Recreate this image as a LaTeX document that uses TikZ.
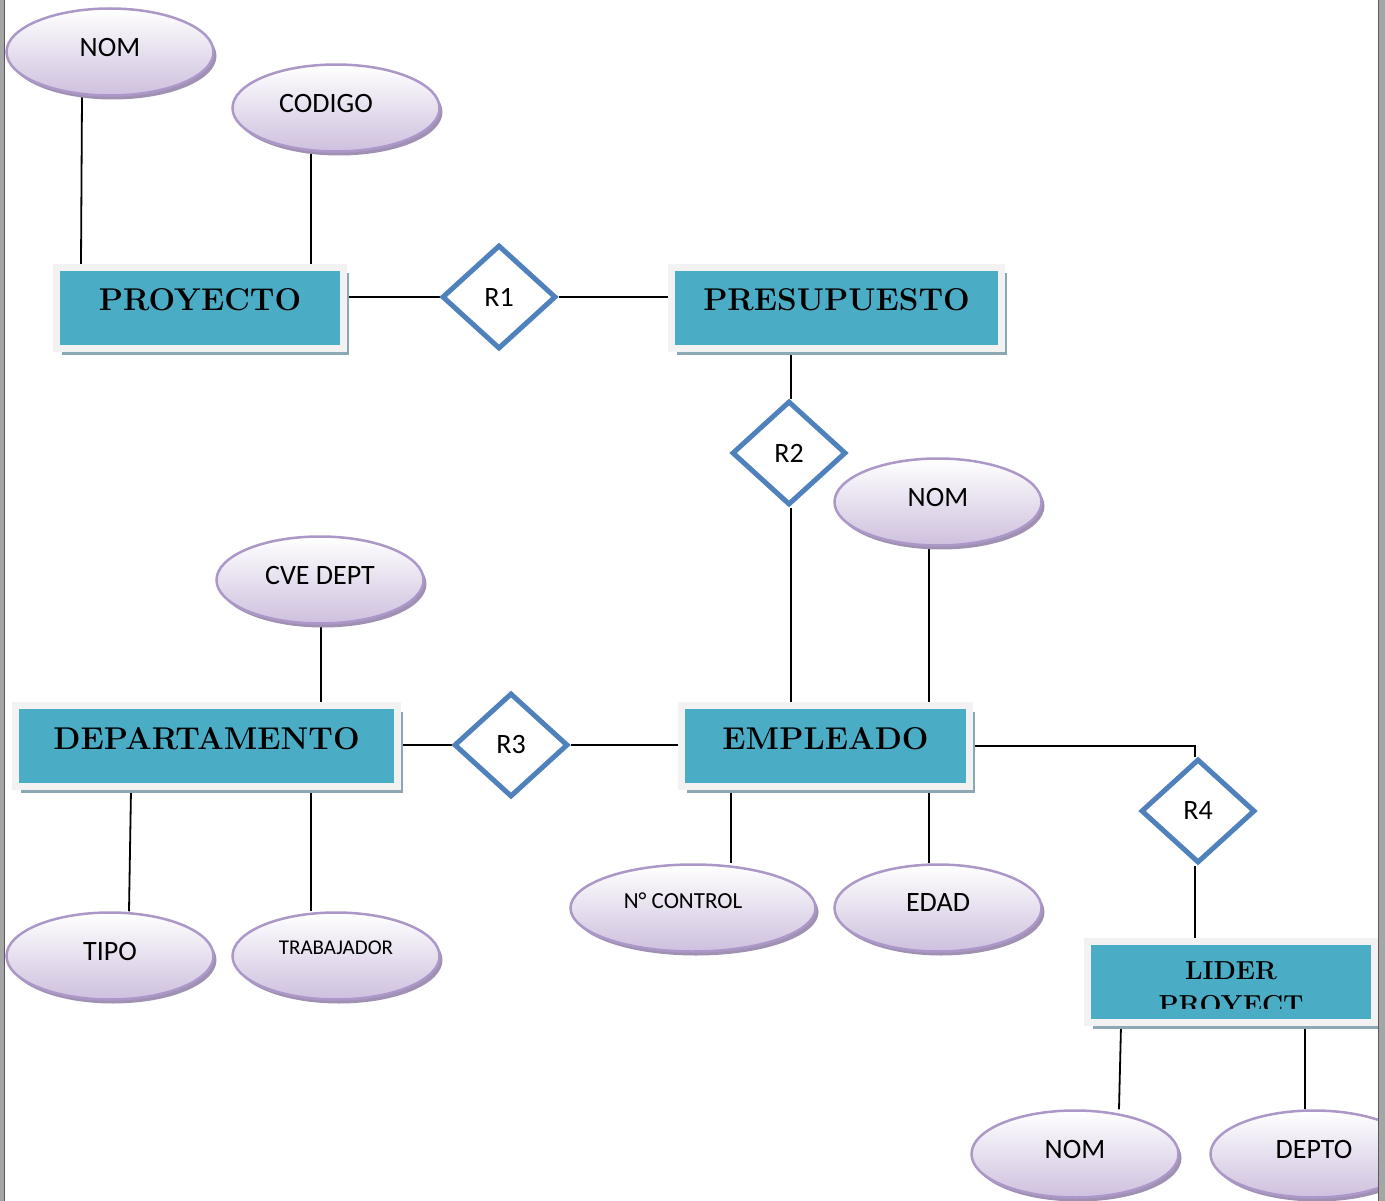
\documentclass[tikz,border=0pt]{standalone}
\usepackage{fontspec}
\setsansfont{Carlito}
\usetikzlibrary{shapes.geometric,shadows,backgrounds}

\definecolor{attrline}{RGB}{172,152,200}
\definecolor{attrbottom}{RGB}{206,192,222}
\definecolor{attrshadow}{RGB}{160,145,178}
\definecolor{entfill}{RGB}{75,172,198}
\definecolor{entframe}{RGB}{242,242,242}
\definecolor{entshadow}{RGB}{140,168,180}
\definecolor{relline}{RGB}{79,129,189}
\definecolor{pageedge}{RGB}{165,165,165}

\tikzset{
    attr/.style={ellipse, draw=attrline, line width=2.5pt, top color=white, bottom color=attrbottom,
        minimum width=207pt, minimum height=87pt, inner sep=0pt, text depth=10pt,
        font=\sffamily\fontsize{28}{34}\selectfont,
        drop shadow={shadow xshift=3pt, shadow yshift=-4pt, fill=attrshadow, opacity=1}},
    entity/.style={rectangle, fill=entfill, draw=entframe, line width=7pt,
        minimum width=287pt, minimum height=81pt, inner sep=0pt, text depth=16pt,
        font=\bfseries\fontsize{31.5}{37}\selectfont,
        drop shadow={shadow xshift=5pt, shadow yshift=-6pt, fill=entshadow, opacity=1}},
    relation/.style={diamond, draw=relline, line width=5pt, fill=white,
        minimum width=114pt, minimum height=104pt, inner sep=0pt,
        font=\sffamily\fontsize{28}{33}\selectfont},
    link/.style={line width=1.8pt}
}

\begin{document}
\begin{tikzpicture}[x=1pt,y=-1pt]
    \useasboundingbox (0,0) rectangle (1385,1201);

    \node[entity] (proyecto) at (200,308) {PROYECTO};
    \node[entity, minimum width=330pt] (presupuesto) at (836.5,308) {PRESUPUESTO};
    \node[entity, minimum width=382pt] (departamento) at (206.5,746) {DEPARTAMENTO};
    \node[entity, minimum width=288pt] (empleado) at (825.5,746) {EMPLEADO};
    \node[entity] (lider) at (1231,982) {};
    \begin{scope}
        \clip (1087,945) rectangle (1375,1008);
        \node[inner sep=0pt, align=center, font=\bfseries\fontsize{26}{34}\selectfont] (liderTxt)
            at ([yshift=-6pt]lider.center) {LIDER\\PROYECT};
    \end{scope}

    \node[relation] (r1) at (499,297) {R1};
    \node[relation] (r2) at (789,453) {R2};
    \node[relation] (r3) at (511,745) {R3};
    \node[relation] (r4) at (1198,811) {R4};

    \node[attr] (nomProy) at (110,52) {NOM};
    \node[attr] (codigo) at (336,108) {CODIGO\hspace*{20pt}};
    \node[attr] (nomEmp) at (938,502) {NOM};
    \node[attr] (cveDept) at (320,580) {CVE DEPT};
    \node[attr] (tipo) at (110,956) {TIPO};
    \node[attr, font=\sffamily\fontsize{21}{25}\selectfont, text depth=16pt] (trabajador) at (336,956) {TRABAJADOR};
    \node[attr, minimum width=245pt, font=\sffamily\fontsize{23}{28}\selectfont, text depth=14pt] (nControl) at (693,908) {N° CONTROL\hspace*{20pt}};
    \node[attr] (edad) at (938,908) {EDAD};
    \node[attr] (nomLider) at (1075,1154) {NOM};
    \node[attr] (depto) at (1314,1154) {DEPTO};

    \begin{scope}[on background layer]
        \draw[link] ([xshift=-28pt]nomProy.south) -- ([xshift=-119pt]proyecto.north);
        \draw[link] ([xshift=-25pt]codigo.south) -- ([xshift=111pt]proyecto.north);
        \draw[link] (r1.west) -- (r1.west -| proyecto.east);
        \draw[link] (r1.east) -- (r1.east -| presupuesto.west);
        \draw[link] ([xshift=2pt]r2.north) -- ([xshift=2pt]r2.north |- presupuesto.south);
        \draw[link] ([xshift=2pt]r2.south) -- ([xshift=-34.5pt]empleado.north);
        \draw[link] ([xshift=-9pt]nomEmp.south) -- ([xshift=103.5pt]empleado.north);
        \draw[link] ([xshift=1pt]cveDept.south) -- ([xshift=114.5pt]departamento.north);
        \draw[link] (r3.west) -- (r3.west -| departamento.east);
        \draw[link] (r3.east) -- (r3.east -| empleado.west);
        \draw[link] (empleado.east) -| ([xshift=-3pt]r4.north);
        \draw[link] ([xshift=-3pt]r4.south) -- ([xshift=-36pt]lider.north);
        \draw[link] ([xshift=-75.5pt]departamento.south) -- ([xshift=19pt]tipo.north);
        \draw[link] ([xshift=104.5pt]departamento.south) -- ([xshift=-25pt]trabajador.north);
        \draw[link] ([xshift=-94.5pt]empleado.south) -- ([xshift=38pt]nControl.north);
        \draw[link] ([xshift=103.5pt]empleado.south) -- ([xshift=-9pt]edad.north);
        \draw[link] ([xshift=-110pt]lider.south) -- ([xshift=44pt]nomLider.north);
        \draw[link] ([xshift=74pt]lider.south) -- ([xshift=-9pt]depto.north);
    \end{scope}

    \fill[pageedge] (0,0) rectangle (3.5,1201);
    \draw[line width=1.5pt, black!65] (4.5,0) -- (4.5,1201);
    \fill[pageedge] (1378,0) rectangle (1385,1201);
    \draw[line width=1.5pt, black!65] (1378.5,0) -- (1378.5,1201);
\end{tikzpicture}
\end{document}
